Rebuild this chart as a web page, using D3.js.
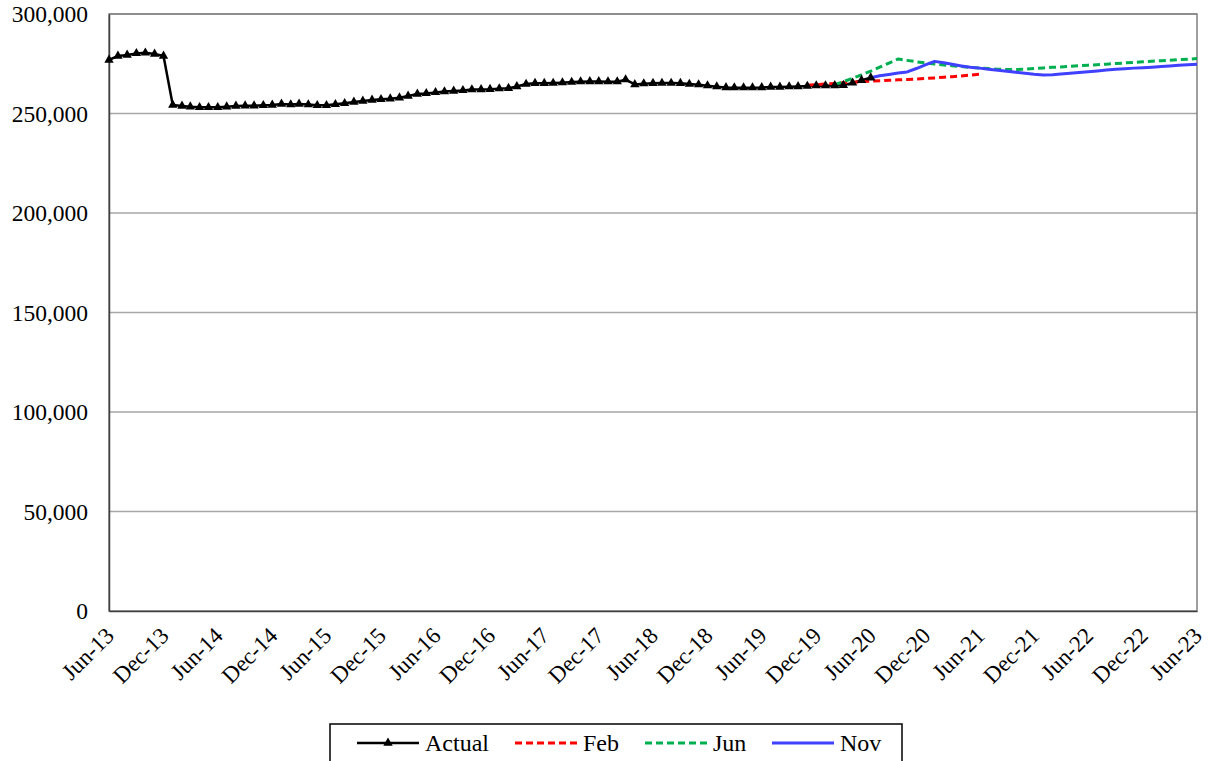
<!DOCTYPE html>
<html lang="en">
    <head>
        <meta charset="UTF-8">
        <script src="https://d3js.org/d3.v7.min.js"></script>
        <title>Actual and forecasts</title>
        <style>
            body { margin: 0; background: #fff; }
            text { font-family: "Liberation Serif", "Times New Roman", serif; fill: #000; }
        </style>
    </head>
    <body>
        <div id="container"></div>
    </body>
    <script>
        // values in thousands, monthly, first month given by the start arrays
        const actualStart = [2013, 5];   // Jun-13
        const actual = [
            276.9, 278.9, 279.4, 280.2, 280.5, 279.9, 278.9,
            254.3, 253.8, 253.4, 253.1, 253.1, 253.1, 253.4, 253.8, 253.9, 253.9, 254.1, 254.3,
            254.8, 254.5, 254.8, 254.5, 254.1, 254.1, 254.6, 255.1, 255.8, 256.3, 256.8, 257.1,
            257.4, 257.9, 258.8, 259.8, 260.1, 260.6, 261.0, 261.3, 261.6, 262.0, 262.1, 262.2,
            262.5, 262.7, 263.6, 264.8, 265.2, 265.2, 265.3, 265.5, 265.8, 266.0, 266.1, 266.1,
            266.0, 266.0, 267.0, 264.6, 265.0, 265.2, 265.3, 265.3, 265.2, 264.8, 264.5, 264.0,
            263.5, 263.1, 263.0, 263.0, 263.0, 263.1, 263.3, 263.3, 263.5, 263.6, 263.8, 264.0,
            264.0, 264.1, 264.2, 265.4, 266.7, 268.0
        ];

        const febStart = [2019, 10];     // Nov-19
        const feb = [
            264.2, 264.5, 264.8, 265.1, 265.4, 265.7, 266.0, 266.3, 266.5, 266.7,
            266.9, 267.1, 267.3, 267.6, 267.9, 268.2, 268.5, 268.9, 269.3, 269.7
        ];

        const junStart = [2020, 1];      // Feb-20
        const jun = [
            264.5, 266.0, 267.7, 269.4, 271.3, 273.3, 275.3, 277.4, 276.7, 276.0,
            275.4, 274.9, 274.4, 274.0, 273.6, 273.2, 272.9, 272.6, 272.3, 272.1,
            272.1, 272.3, 272.6, 272.9, 273.2, 273.4, 273.7, 274.0, 274.3, 274.5,
            274.8, 275.1, 275.4, 275.7, 276.0, 276.3, 276.5, 276.8, 277.1, 277.3, 277.6
        ];

        const novStart = [2020, 5];      // Jun-20
        const nov = [
            268.0, 269.0, 269.6, 270.3, 270.9, 272.6, 274.4, 276.2, 275.5, 274.7,
            273.9, 273.2, 272.8, 272.2, 271.7, 271.2, 270.7, 270.2, 269.7, 269.3,
            269.5, 269.8, 270.2, 270.6, 271.0, 271.4, 271.8, 272.2, 272.5, 272.8,
            273.0, 273.3, 273.6, 273.9, 274.2, 274.5, 274.8
        ];

        const tickLabels = [
            'Jun-13', 'Dec-13', 'Jun-14', 'Dec-14', 'Jun-15', 'Dec-15', 'Jun-16',
            'Dec-16', 'Jun-17', 'Dec-17', 'Jun-18', 'Dec-18', 'Jun-19', 'Dec-19',
            'Jun-20', 'Dec-20', 'Jun-21', 'Dec-21', 'Jun-22', 'Dec-22', 'Jun-23'
        ];
        const yTicks = [0, 50000, 100000, 150000, 200000, 250000, 300000];

        const width = 1212;
        const height = 761;
        const plot = {left: 109, right: 1197, top: 14, bottom: 611};

        const parseTick = d3.timeParse('%b-%y');

        function toPoints(start, values) {
            const first = new Date(start[0], start[1], 1);
            return values.map((v, i) => ({date: d3.timeMonth.offset(first, i), value: v * 1000}));
        }

        const series = [
            {name: 'Actual', points: toPoints(actualStart, actual), color: '#000000', dash: null, width: 2.5, marker: true},
            {name: 'Feb', points: toPoints(febStart, feb), color: '#ff0000', dash: '7,4', width: 3, marker: false},
            {name: 'Jun', points: toPoints(junStart, jun), color: '#00b050', dash: '7,4', width: 3, marker: false},
            {name: 'Nov', points: toPoints(novStart, nov), color: '#4040ff', dash: null, width: 3, marker: false}
        ];

        const x = d3.scaleTime()
            .domain([parseTick(tickLabels[0]), parseTick(tickLabels[tickLabels.length - 1])])
            .range([plot.left, plot.right]);

        const y = d3.scaleLinear()
            .domain([0, 300000])
            .range([plot.bottom, plot.top]);

        const svg = d3.select('#container')
            .append('svg')
            .attr('width', width)
            .attr('height', height)
            .attr('viewBox', [0, 0, width, height]);

        // horizontal grid lines
        svg.append('g')
            .selectAll('line')
            .data(yTicks.filter(d => d > 0))
            .enter()
            .append('line')
            .attr('x1', plot.left)
            .attr('x2', plot.right)
            .attr('y1', d => y(d))
            .attr('y2', d => y(d))
            .attr('stroke', '#a6a6a6')
            .attr('stroke-width', 1.5);

        // plot frame
        svg.append('rect')
            .attr('x', plot.left)
            .attr('y', plot.top)
            .attr('width', plot.right - plot.left)
            .attr('height', plot.bottom - plot.top)
            .attr('fill', 'none')
            .attr('stroke', '#7f7f7f')
            .attr('stroke-width', 1.5);

        // y axis
        const yAxis = svg.append('g')
            .attr('transform', `translate(${plot.left},0)`)
            .call(d3.axisLeft(y).tickValues(yTicks).tickSize(0).tickPadding(21).tickFormat(d3.format(',')));
        yAxis.select('.domain').attr('stroke', '#404040').attr('stroke-width', 1.5);
        yAxis.selectAll('text').style('font-size', '23.5px');

        // x axis
        const xAxis = svg.append('g')
            .attr('transform', `translate(0,${plot.bottom})`)
            .call(d3.axisBottom(x).tickValues(tickLabels.map(parseTick)).tickSize(0).tickFormat(d3.timeFormat('%b-%y')));
        xAxis.select('.domain').attr('stroke', '#404040').attr('stroke-width', 1.5);
        xAxis.selectAll('text')
            .style('font-size', '23px')
            .attr('text-anchor', 'end')
            .attr('dy', null)
            .attr('y', 0)
            .attr('transform', 'translate(6,26) rotate(-45)');

        const line = d3.line()
            .x(d => x(d.date))
            .y(d => y(d.value));

        svg.append('g')
            .selectAll('path')
            .data(series)
            .enter()
            .append('path')
            .attr('d', d => line(d.points))
            .attr('fill', 'none')
            .attr('stroke', d => d.color)
            .attr('stroke-width', d => d.width)
            .attr('stroke-dasharray', d => d.dash)
            .attr('stroke-linejoin', 'round');

        const triangle = d3.symbol().type(d3.symbolTriangle).size(38);

        svg.append('g')
            .selectAll('path')
            .data(series[0].points)
            .enter()
            .append('path')
            .attr('d', triangle)
            .attr('transform', d => `translate(${x(d.date)},${y(d.value)})`)
            .attr('fill', '#000');

        // legend
        const legend = svg.append('g');
        legend.append('rect')
            .attr('x', 330)
            .attr('y', 724)
            .attr('width', 572)
            .attr('height', 50)
            .attr('fill', '#fff')
            .attr('stroke', '#000')
            .attr('stroke-width', 1.5);

        const legendPos = [357, 515, 645, 772];
        const item = legend.selectAll('g')
            .data(series)
            .enter()
            .append('g')
            .attr('transform', (d, i) => `translate(${legendPos[i]},743)`);

        item.append('line')
            .attr('x1', 0)
            .attr('x2', 62)
            .attr('stroke', d => d.color)
            .attr('stroke-width', d => d.width)
            .attr('stroke-dasharray', d => d.dash);

        item.filter(d => d.marker)
            .append('path')
            .attr('d', triangle)
            .attr('transform', 'translate(31,0)')
            .attr('fill', '#000');

        item.append('text')
            .attr('x', 68)
            .attr('dy', '0.35em')
            .style('font-size', '24px')
            .text(d => d.name);
    </script>
</html>
